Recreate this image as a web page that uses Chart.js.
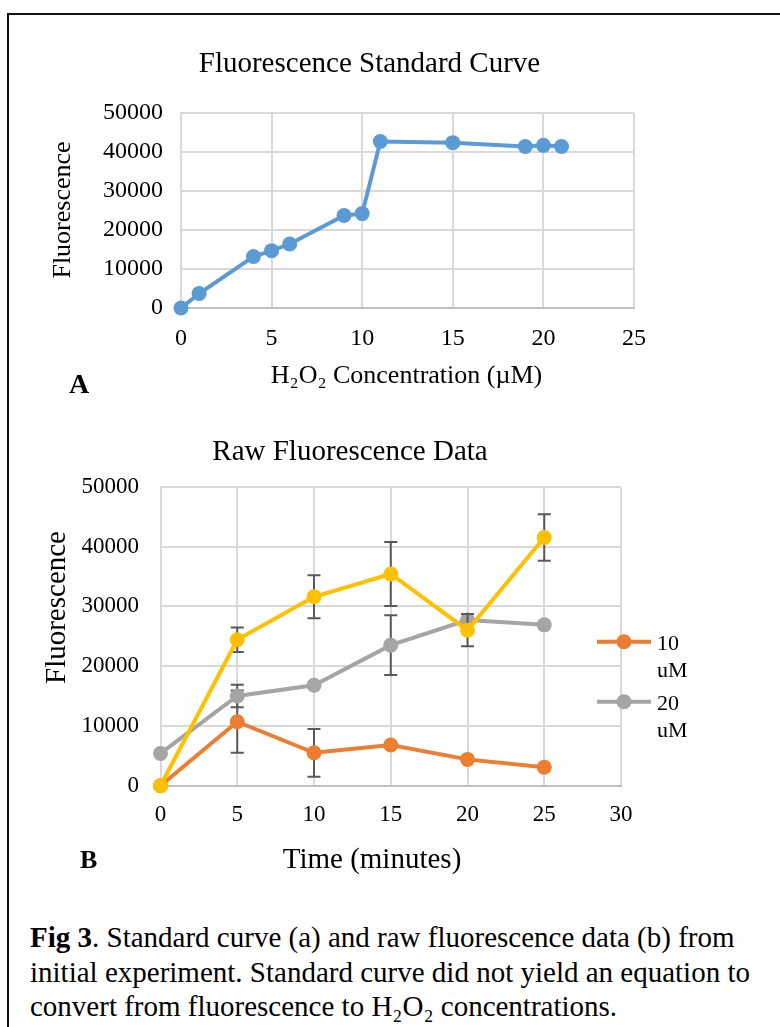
<!DOCTYPE html>
<html>
<head>
<meta charset="utf-8">
<script src="https://cdn.jsdelivr.net/npm/chart.js@4.4.1/dist/chart.umd.min.js"></script>
<style>
html,body{margin:0;padding:0;background:#fff;}
body{width:780px;height:1027px;position:relative;overflow:hidden;font-family:"Liberation Serif","Times New Roman",serif;}
#frameTop{position:absolute;left:7px;top:13px;width:773px;height:2px;background:#111;}
#frameLeft{position:absolute;left:7px;top:13px;width:2px;height:1014px;background:#111;}
#cA{position:absolute;left:0;top:0;}
#cB{position:absolute;left:0;top:410px;}
#caption{position:absolute;left:30px;top:920px;font-size:29px;line-height:34.7px;color:#000;white-space:nowrap;}
</style>
</head>
<body>
<div id="frameTop"></div>
<div id="frameLeft"></div>
<canvas id="cA" width="780" height="410"></canvas>
<canvas id="cB" width="780" height="470"></canvas>
<div id="caption"><b>Fig 3</b>. Standard curve (a) and raw fluorescence data (b) from<br>initial experiment. Standard curve did not yield an equation to<br>convert from fluorescence to H₂O₂ concentrations.</div>
<script>
// ---------- DATA ----------
// Panel A: standard curve
const concA = [0, 1, 4, 5, 6, 9, 10, 11, 15, 19, 20, 21];
const fluorA = [0, 3700, 13200, 14700, 16400, 23700, 24200, 42700, 42400, 41400, 41700, 41400];
const xTicksA = [0, 5, 10, 15, 20, 25];
const yTicksA = [0, 10000, 20000, 30000, 40000, 50000];

// Panel B: raw fluorescence over time
const timeB = [0, 5, 10, 15, 20, 25];
const label10 = "10 uM";
const fluor10 = [0, 10700, 5500, 6800, 4400, 3100];
const err10 = [null, 5200, 4000, null, null, null];
const label20 = "20 uM";
const fluor20 = [5400, 15000, 16800, 23500, 27700, 26900];
const err20 = [null, 1900, null, 5000, null, null];
const label3 = "Series 3";
const fluor3 = [0, 24400, 31600, 35400, 26000, 41500];
const err3 = [null, 2050, 3600, 5350, 2700, 3900];
const xTicksB = [0, 5, 10, 15, 20, 25, 30];
const yTicksB = [0, 10000, 20000, 30000, 40000, 50000];

// ---------- HELPERS ----------
const FAM = '"Liberation Serif", "Times New Roman", serif';
Chart.defaults.font.family = FAM;
Chart.defaults.color = '#000';

const toPts = (xs, ys) => xs.map((x, i) => ({x: x, y: ys[i]}));

const textPlugin = {
  id: 'panelText',
  afterDraw(chart, args, opts) {
    const ctx = chart.ctx;
    (opts.items || []).forEach(it => {
      ctx.save();
      ctx.font = (it.weight || 'normal') + ' ' + it.size + 'px ' + FAM;
      ctx.fillStyle = '#000';
      ctx.textAlign = it.align || 'center';
      ctx.textBaseline = 'alphabetic';
      ctx.translate(it.x, it.y);
      if (it.rotate) ctx.rotate(it.rotate);
      ctx.fillText(it.text, 0, 0);
      ctx.restore();
    });
  }
};

const errorBarPlugin = {
  id: 'errorBars',
  beforeDatasetDraw(chart, args, opts) {
    const ds = chart.data.datasets[args.index];
    if (!ds.errors) return;
    const xs = chart.scales.x, ys = chart.scales.y, ctx = chart.ctx;
    ctx.save();
    ctx.strokeStyle = opts.color || '#595959';
    ctx.lineWidth = opts.width || 2;
    ds.data.forEach((p, i) => {
      const e = ds.errors[i];
      if (e == null) return;
      const px = xs.getPixelForValue(p.x);
      const t = ys.getPixelForValue(p.y + e), b = ys.getPixelForValue(p.y - e);
      const c = opts.cap || 6;
      ctx.beginPath();
      ctx.moveTo(px, t); ctx.lineTo(px, b);
      ctx.moveTo(px - c, t); ctx.lineTo(px + c, t);
      ctx.moveTo(px - c, b); ctx.lineTo(px + c, b);
      ctx.stroke();
    });
    ctx.restore();
  }
};

const sideLegend = {
  id: 'sideLegend',
  afterDraw(chart, args, opts) {
    if (!opts.show) return;
    const ctx = chart.ctx;
    let k = 0;
    chart.data.datasets.forEach(ds => {
      if (!ds.inLegend) return;
      const y = opts.top + k * opts.step;
      ctx.save();
      ctx.strokeStyle = ds.borderColor;
      ctx.lineWidth = ds.borderWidth;
      ctx.beginPath(); ctx.moveTo(opts.x0, y); ctx.lineTo(opts.x1, y); ctx.stroke();
      ctx.fillStyle = ds.pointBackgroundColor;
      ctx.beginPath(); ctx.arc((opts.x0 + opts.x1) / 2, y, ds.pointRadius, 0, Math.PI * 2); ctx.fill();
      ctx.fillStyle = '#000';
      ctx.font = opts.size + 'px ' + FAM;
      ctx.textAlign = 'left';
      ctx.textBaseline = 'alphabetic';
      ds.label.split(' ').forEach((w, j) => ctx.fillText(w, opts.textX, y + opts.baseOff + j * opts.lineGap));
      ctx.restore();
      k++;
    });
  }
};

function lineDs(label, xs, ys, color, errs, order, inLegend) {
  return {
    label: label, data: toPts(xs, ys), errors: errs || null, inLegend: !!inLegend,
    borderColor: color, backgroundColor: color, pointBackgroundColor: color, pointBorderColor: color,
    borderWidth: 4, pointRadius: 7.5, pointHoverRadius: 7.5, pointBorderWidth: 0,
    showLine: true, tension: 0, clip: false, order: order
  };
}

function axes(xMin, xMax, yMax, tickSize, yWidth, xHeight, xPad, yPad) {
  return {
    x: {
      type: 'linear', min: xMin, max: xMax,
      ticks: {font: {size: tickSize}, color: '#000', padding: xPad, maxRotation: 0, callback: v => String(v)},
      grid: {color: '#D9D9D9', lineWidth: 2, drawTicks: false},
      border: {display: true, color: '#BFBFBF', width: 2},
      afterFit: s => { s.height = xHeight; }
    },
    y: {
      type: 'linear', min: 0, max: yMax,
      ticks: {font: {size: tickSize}, color: '#000', padding: yPad, callback: v => String(v)},
      grid: {color: c => (c.tick && c.tick.value === 0 ? '#BFBFBF' : '#D9D9D9'), lineWidth: 2, drawTicks: false},
      border: {display: true, color: '#D9D9D9', width: 2},
      afterFit: s => { s.width = yWidth; }
    }
  };
}

// ---------- CHART A ----------
const scalesA = axes(xTicksA[0], xTicksA[xTicksA.length - 1], yTicksA[yTicksA.length - 1], 24, 181, 102, 16, 18);
scalesA.x.afterBuildTicks = s => { s.ticks = xTicksA.map(v => ({value: v})); };
scalesA.y.afterBuildTicks = s => { s.ticks = yTicksA.map(v => ({value: v})); };

new Chart(document.getElementById('cA'), {
  type: 'scatter',
  data: {datasets: [lineDs('Fluorescence', concA, fluorA, '#5B9BD5', null, 0, false)]},
  options: {
    responsive: false, animation: false, devicePixelRatio: 1,
    layout: {padding: {left: 0, right: 146, top: 113, bottom: 0}},
    scales: scalesA,
    plugins: {
      legend: {display: false}, tooltip: {enabled: false}, title: {display: false},
      panelText: {items: [
        {text: 'Fluorescence Standard Curve', x: 369.5, y: 71.5, size: 29},
        {text: 'H₂O₂ Concentration (µM)', x: 406.5, y: 383, size: 26},
        {text: 'Fluorescence', x: 70, y: 210, size: 26, rotate: -Math.PI / 2},
        {text: 'A', x: 69, y: 393, size: 28, weight: 'bold', align: 'left'}
      ]},
      errorBars: {color: '#595959', width: 2, cap: 6.5},
      sideLegend: {show: false}
    }
  },
  plugins: [textPlugin, errorBarPlugin, sideLegend]
});

// ---------- CHART B ----------
const scalesB = axes(xTicksB[0], xTicksB[xTicksB.length - 1], yTicksB[yTicksB.length - 1], 23, 160.5, 94.3, 15.5, 21.5);
scalesB.x.afterBuildTicks = s => { s.ticks = xTicksB.map(v => ({value: v})); };
scalesB.y.afterBuildTicks = s => { s.ticks = yTicksB.map(v => ({value: v})); };

new Chart(document.getElementById('cB'), {
  type: 'scatter',
  data: {datasets: [
    lineDs(label10, timeB, fluor10, '#ED7D31', err10, 2, true),
    lineDs(label20, timeB, fluor20, '#A5A5A5', err20, 1, true),
    lineDs(label3, timeB, fluor3, '#FFC000', err3, 0, false)
  ]},
  options: {
    responsive: false, animation: false, devicePixelRatio: 1,
    layout: {padding: {left: 0, right: 159, top: 76.7, bottom: 0}},
    scales: scalesB,
    plugins: {
      legend: {display: false}, tooltip: {enabled: false}, title: {display: false},
      panelText: {items: [
        {text: 'Raw Fluorescence Data', x: 350, y: 50, size: 29},
        {text: 'Time (minutes)', x: 372, y: 458.3, size: 29},
        {text: 'Fluorescence', x: 65, y: 197.5, size: 29, rotate: -Math.PI / 2},
        {text: 'B', x: 80, y: 458.3, size: 26, weight: 'bold', align: 'left'}
      ]},
      errorBars: {color: '#595959', width: 2, cap: 6.5},
      sideLegend: {show: true, top: 231.7, step: 60, x0: 597, x1: 651, textX: 657, baseOff: 8.3, lineGap: 26.7, size: 22}
    }
  },
  plugins: [textPlugin, errorBarPlugin, sideLegend]
});
</script>
</body>
</html>
